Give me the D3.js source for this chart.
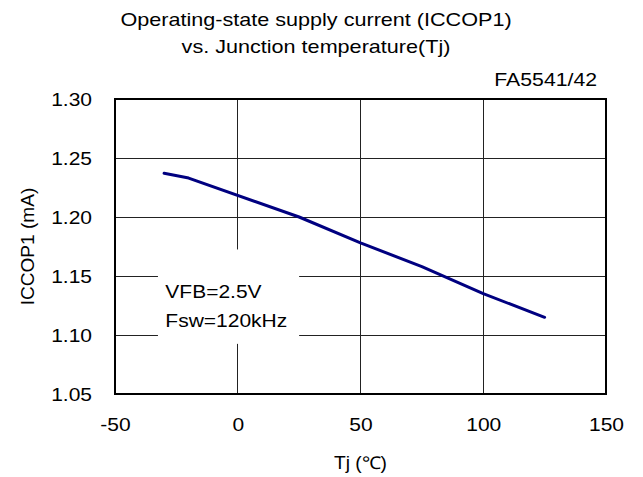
<!DOCTYPE html>
<html>
<head>
<meta charset="utf-8">
<script src="https://cdn.jsdelivr.net/npm/d3@7"></script>
<style>
html,body{margin:0;padding:0;background:#fff;}
svg{display:block;}
text{font-family:"Liberation Sans",Arial,sans-serif;fill:#000;}
</style>
</head>
<body>
<svg id="chart" width="643" height="477"></svg>
<script>
const tjValues = [-30, -20, 25, 50, 75, 100, 125];
const iccValues = [1.237, 1.233, 1.200, 1.178, 1.158, 1.135, 1.115];
const xTicks = [-50, 0, 50, 100, 150];
const yTicks = [1.05, 1.10, 1.15, 1.20, 1.25, 1.30];
const titleLines = ["Operating-state supply current (ICCOP1)", "vs. Junction temperature(Tj)"];
const noteLines = ["VFB=2.5V", "Fsw=120kHz"];
const partLabel = "FA5541/42";
const xTitle = "Tj (℃)";
const yTitle = "ICCOP1 (mA)";

const SX = 1.2; // horizontal stretch of the reference glyphs
const svg = d3.select("#chart");
const L = 115, R = 606, T = 99, B = 394;
const x = d3.scaleLinear().domain([-50, 150]).range([L, R]);
const y = d3.scaleLinear().domain([1.05, 1.30]).range([B, T]);

function stext(sel, px, py, txt, size, anchor, sx) {
  return sel.append("text")
    .attr("transform", `translate(${px},${py}) scale(${sx || SX},1)`)
    .attr("text-anchor", anchor || "start")
    .attr("font-size", size).text(txt);
}

// gridlines
const g = svg.append("g");
g.selectAll("line.v").data(xTicks.slice(1, -1)).enter().append("line")
  .attr("x1", d => x(d)).attr("x2", d => x(d)).attr("y1", T).attr("y2", B)
  .attr("stroke", "#222").attr("stroke-width", 1).attr("shape-rendering", "crispEdges");
g.selectAll("line.h").data(yTicks.slice(1, -1)).enter().append("line")
  .attr("x1", L).attr("x2", R).attr("y1", d => y(d)).attr("y2", d => y(d))
  .attr("stroke", "#222").attr("stroke-width", 1).attr("shape-rendering", "crispEdges");

// note box (white background)
svg.append("rect").attr("x", x(-32.5)).attr("y", y(1.1725)).attr("width", x(25) - x(-32.5)).attr("height", y(1.0925) - y(1.1725))
  .attr("fill", "#fff");
noteLines.forEach((t, i) => stext(svg, x(-29.5), 298 + i * 29, t, 17.5, "start"));

// data line
const line = d3.line().x((d, i) => x(tjValues[i])).y(d => y(d));
svg.append("path").datum(iccValues).attr("d", line)
  .attr("fill", "none").attr("stroke", "#000080").attr("stroke-width", 3).attr("stroke-linejoin", "round").attr("stroke-linecap", "round");

// border
svg.append("rect").attr("x", L).attr("y", T).attr("width", R - L).attr("height", B - T)
  .attr("fill", "none").attr("stroke", "#000").attr("stroke-width", 2);

// axes tick labels
const xAxis = d3.axisBottom(x).tickValues(xTicks).tickSize(0).tickPadding(0).tickFormat(d => String(d));
const xa = svg.append("g").attr("transform", `translate(0,${B})`).call(xAxis);
xa.select(".domain").remove();
xa.selectAll("text").attr("y", 0).attr("dy", 0).attr("transform", `translate(0,37) scale(${SX},1)`)
  .attr("font-size", 17.5).attr("font-family", '"Liberation Sans",Arial,sans-serif').attr("fill", "#000");

const yAxis = d3.axisLeft(y).tickValues(yTicks).tickSize(0).tickPadding(0).tickFormat(d3.format(".2f"));
const ya = svg.append("g").attr("transform", `translate(92,0)`).call(yAxis);
ya.select(".domain").remove();
ya.selectAll("text").attr("x", 0).attr("dy", "0.35em").attr("transform", `scale(${SX},1)`)
  .attr("font-size", 17.5).attr("font-family", '"Liberation Sans",Arial,sans-serif').attr("fill", "#000");

// titles
titleLines.forEach((t, i) => stext(svg, 316, 26 + i * 26.5, t, 18, "middle"));
stext(svg, 597, 86, partLabel, 18, "end", 1.18);
stext(svg, (L + R) / 2, 469, xTitle, 17.5, "middle", 1.1);
svg.append("text").attr("transform", `translate(34,${(T + B) / 2}) rotate(-90) scale(1.09,1)`)
  .attr("text-anchor", "middle").attr("font-size", 17.5).text(yTitle);
</script>
</body>
</html>
